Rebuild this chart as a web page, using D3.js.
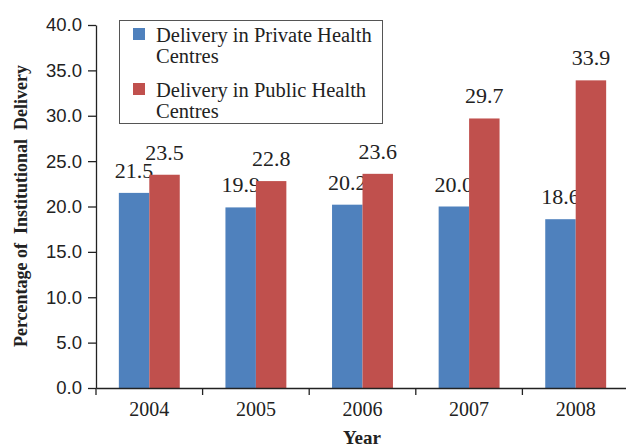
<!DOCTYPE html>
<html><head><meta charset="utf-8">
<script src="https://cdn.jsdelivr.net/npm/d3@7"></script>
<style>body{margin:0;background:#fff}svg{display:block}</style>
</head><body>
<svg id="c" width="626" height="448"></svg>
<script>
const years = ["2004","2005","2006","2007","2008"];
const seriesNames = ["Delivery in Private Health Centres","Delivery in Public Health Centres"];
const privateVals = [21.5,19.9,20.2,20.0,18.6];
const publicVals = [23.5,22.8,23.6,29.7,33.9];
const yTicks = [0,5,10,15,20,25,30,35,40];
const colors = ["#4F81BD","#C0504D"];

const serif = "Liberation Serif, Times New Roman, serif";
const svg = d3.select("#c");
const x = d3.scaleBand().domain(years).range([96,629]).paddingInner(0).paddingOuter(0);
const y = d3.scaleLinear().domain([0,40]).range([388,25]);
const x1 = d3.scaleBand().domain([0,1]).range([0,x.bandwidth()]).paddingInner(0).paddingOuter(0.75);

// y axis
const ya = svg.append("g").attr("transform","translate(96,0)")
  .call(d3.axisLeft(y).tickValues(yTicks).tickFormat(d3.format(".1f")).tickSize(8).tickSizeOuter(0));
ya.select(".domain").attr("stroke","#222").attr("stroke-width",1.3);
ya.selectAll(".tick line").attr("stroke","#222").attr("stroke-width",1.3);
ya.selectAll(".tick text").attr("font-family","Liberation Sans, Arial, sans-serif").attr("font-size",18.5).attr("fill","#222").attr("x",-14);

// bars
const data = [privateVals, publicVals];
data.forEach((vals,si)=>{
  const g = svg.append("g");
  g.selectAll("rect").data(vals).join("rect")
    .attr("x",(d,i)=>x(years[i])+x1(si))
    .attr("width",x1.bandwidth())
    .attr("y",d=>y(d))
    .attr("height",d=>y(0)-y(d))
    .attr("fill",colors[si]);
  g.selectAll("text").data(vals).join("text")
    .attr("x",(d,i)=>x(years[i])+x1(si)+x1.bandwidth()/2)
    .attr("y",d=>y(d)-15)
    .attr("text-anchor","middle")
    .attr("font-family",serif)
    .attr("font-size",22).attr("fill","#222")
    .text(d=>d3.format(".1f")(d));
});

// x axis
const xa = svg.append("g").attr("transform","translate(0,388)")
  .call(d3.axisBottom(x).tickSize(0).tickSizeOuter(0));
xa.select(".domain").attr("stroke","#222").attr("stroke-width",1.3);
xa.selectAll(".tick text").attr("font-family",serif).attr("font-size",20).attr("fill","#222").attr("dy",0).attr("y",28);
svg.append("g").selectAll("line").data(years).join("line")
  .attr("x1",d=>x(d)).attr("x2",d=>x(d)).attr("y1",388).attr("y2",395)
  .attr("stroke","#222").attr("stroke-width",1.3);

// legend
const lg = svg.append("g");
lg.append("rect").attr("x",119.5).attr("y",20.5).attr("width",263).attr("height",103)
  .attr("fill","#fff").attr("stroke","#555").attr("stroke-width",1);
const legY = [28,83];
seriesNames.forEach((n,i)=>{
  lg.append("rect").attr("x",133).attr("y",legY[i]).attr("width",12).attr("height",12).attr("fill",colors[i]);
  const words = n.split(" ");
  const t = lg.append("text").attr("font-family",serif).attr("font-size",20.5).attr("fill","#222");
  t.append("tspan").attr("x",156).attr("y",legY[i]+14).text(words.slice(0,4).join(" "));
  t.append("tspan").attr("x",156).attr("y",legY[i]+35).text(words.slice(4).join(" "));
});

// axis titles
svg.append("text").attr("transform","translate(27,206) rotate(-90)")
  .attr("text-anchor","middle").attr("font-family",serif)
  .attr("font-weight","bold").attr("font-size",18).attr("fill","#222").style("white-space","pre")
  .text("Percentage of  Institutional  Delivery");
svg.append("text").attr("x",362).attr("y",444).attr("text-anchor","middle")
  .attr("font-family",serif)
  .attr("font-weight","bold").attr("font-size",19).attr("fill","#222").text("Year");
</script>
</body></html>
